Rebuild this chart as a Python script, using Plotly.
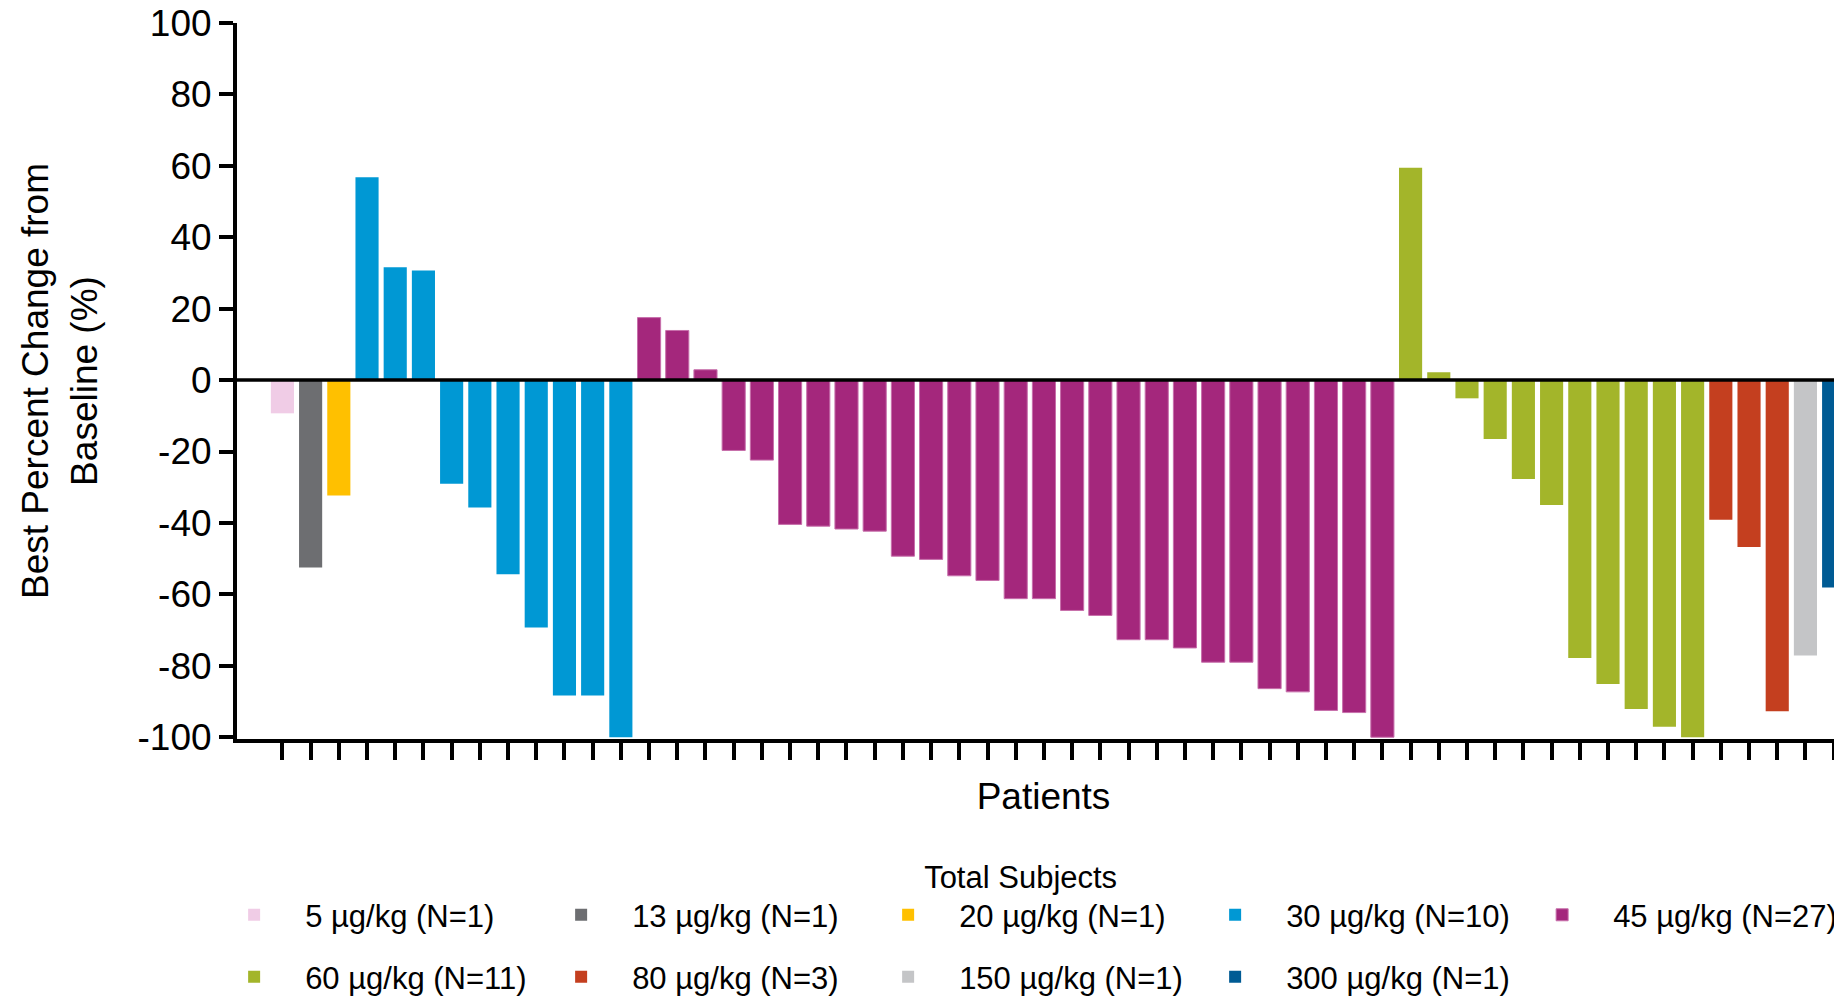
import plotly.graph_objects as go

# ---- data ----
dose_labels = ["5 µg/kg (N=1)", "13 µg/kg (N=1)", "20 µg/kg (N=1)", "30 µg/kg (N=10)",
               "45 µg/kg (N=27)", "60 µg/kg (N=11)", "80 µg/kg (N=3)", "150 µg/kg (N=1)",
               "300 µg/kg (N=1)"]
dose_colors = ["#f0cce6", "#6d6e71", "#ffc000", "#0098d4", "#a4277c",
               "#a3b52a", "#c43f1f", "#c4c5c7", "#005b94"]

v_5 = [-9.3]
v_13 = [-52.5]
v_20 = [-32.3]
v_30 = [56.8, 31.6, 30.7, -29.0, -35.7, -54.4, -69.3, -88.3, -88.3, -100.0]
v_45 = [17.5, 13.9, 2.9, -19.7, -22.4, -40.4, -40.9, -41.7, -42.3, -49.3, -50.2,
        -54.8, -56.1, -61.2, -61.2, -64.5, -65.9, -72.7, -72.7, -75.0, -79.0, -79.0,
        -86.4, -87.3, -92.5, -93.1, -100.0]
v_60 = [59.5, 2.2, -5.1, -16.5, -27.7, -35.0, -77.8, -85.1, -92.1, -97.1, -100.0]
v_80 = [-39.1, -46.7, -92.7]
v_150 = [-77.1]
v_300 = [-58.1]

groups = [v_5, v_13, v_20, v_30, v_45, v_60, v_80, v_150, v_300]
y_ticks = [100, 80, 60, 40, 20, 0, -20, -40, -60, -80, -100]
y_ticktext = ["100", "80", "60", "40", "20", "0", "-20", "-40", "-60", "-80", "-100"]

FONT = "Arial, Liberation Sans, Helvetica, sans-serif"

fig = go.Figure()
start = 0
all_x = []
for i, vals in enumerate(groups):
    xs = list(range(start, start + len(vals)))
    all_x += xs
    start += len(vals)
    line = dict(width=1, color="#c76fab") if i == 4 else dict(width=0)
    fig.add_trace(go.Bar(
        x=xs, y=vals, name=dose_labels[i],
        marker=dict(color=dose_colors[i], line=line),
        width=0.82,
        legend="legend" if i < 5 else "legend2",
        showlegend=True,
    ))

fig.add_shape(type="line", xref="paper", yref="y", x0=0, x1=1, y0=0, y1=0,
              line=dict(color="black", width=3.5), layer="above")

fig.update_layout(
    width=1842, height=996,
    paper_bgcolor="white", plot_bgcolor="white",
    barmode="overlay",
    font=dict(family=FONT, color="black"),
    margin=dict(l=229, r=0, t=15, b=265, autoexpand=False),
    xaxis=dict(
        range=[-1.61, 55.58],
        tickvals=all_x, showticklabels=False,
        ticks="outside", ticklen=17, tickwidth=4, tickcolor="black",
        showline=True, linewidth=4, linecolor="black",
        showgrid=False, zeroline=False,
        title=dict(text="Patients", font=dict(size=37, family=FONT), standoff=25),
    ),
    yaxis=dict(
        range=[-100.5, 100],
        tickvals=y_ticks, ticktext=y_ticktext,
        ticks="outside", ticklen=14, tickwidth=4, tickcolor="black",
        showline=True, linewidth=4, linecolor="black",
        showgrid=False, zeroline=False,
        tickfont=dict(size=37, family=FONT),
        ticklabeloverflow="allow",
        title=dict(text="Best Percent Change from<br>Baseline (%)",
                   font=dict(size=37, family=FONT), standoff=30),
    ),
    legend=dict(
        orientation="h", x=-0.021, xanchor="left", y=-0.152, yanchor="top",
        font=dict(size=31, family=FONT), itemwidth=92, entrywidth=220,
        title=dict(text="Total Subjects", side="top center", font=dict(size=31, family=FONT)),
        bgcolor="rgba(0,0,0,0)",
    ),
    legend2=dict(
        orientation="h", x=-0.021, xanchor="left", y=-0.295, yanchor="top",
        font=dict(size=31, family=FONT), itemwidth=92, entrywidth=220,
        bgcolor="rgba(0,0,0,0)",
    ),
    showlegend=True,
)

fig.write_html("out.html")
